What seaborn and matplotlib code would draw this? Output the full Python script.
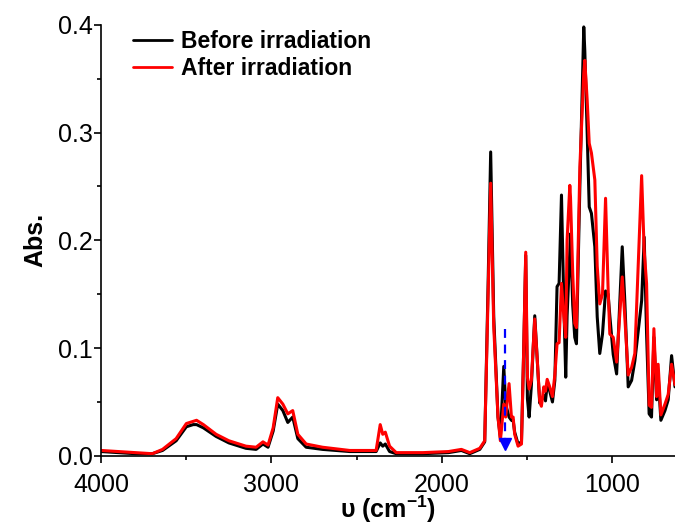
import pandas as pd
import numpy as np
import matplotlib.pyplot as plt
import seaborn as sns
from matplotlib.ticker import MultipleLocator, FormatStrFormatter

# wavenumbers (cm-1), high to low
wavenumber = [4000, 3900, 3800, 3700, 3640, 3560, 3500, 3460, 3440, 3400,
              3325, 3250, 3150, 3090, 3050, 3020, 2990, 2963, 2933, 2904,
              2875, 2845, 2796, 2700, 2540, 2385, 2361, 2346, 2331, 2306,
              2267, 2110, 1960, 1884, 1835, 1776, 1747, 1727, 1712, 1694,
              1669, 1655, 1635, 1624, 1604, 1590, 1580, 1571, 1551, 1531,
              1518, 1506, 1496, 1486, 1473, 1453, 1439, 1424, 1414, 1400,
              1390, 1380, 1365, 1349, 1335, 1322, 1310, 1296, 1282, 1271,
              1263, 1247, 1243, 1230, 1218, 1208, 1188, 1165, 1159, 1145,
              1133, 1120, 1100, 1086, 1071, 1055, 1037, 1022, 1012, 992,
              972, 939, 924, 904, 884, 865, 825, 810, 796, 781,
              767, 753, 737, 728, 712, 688, 669, 649, 629]

before = [0.004, 0.003, 0.002, 0.002, 0.005, 0.014, 0.027, 0.029, 0.029, 0.026,
          0.018, 0.012, 0.007, 0.006, 0.011, 0.008, 0.023, 0.048, 0.042, 0.031,
          0.036, 0.016, 0.008, 0.006, 0.004, 0.004, 0.012, 0.009, 0.011, 0.004,
          0.002, 0.002, 0.003, 0.005, 0.002, 0.006, 0.013, 0.160, 0.282, 0.129,
          0.036, 0.017, 0.083, 0.048, 0.036, 0.033, 0.033, 0.022, 0.011, 0.013,
          0.098, 0.186, 0.053, 0.036, 0.065, 0.130, 0.091, 0.049, 0.052, 0.056,
          0.051, 0.066, 0.060, 0.050, 0.070, 0.157, 0.160, 0.242, 0.140, 0.073,
          0.130, 0.190, 0.206, 0.140, 0.110, 0.104, 0.250, 0.398, 0.376, 0.300,
          0.231, 0.225, 0.194, 0.129, 0.095, 0.113, 0.153, 0.150, 0.130, 0.094,
          0.076, 0.194, 0.144, 0.064, 0.070, 0.088, 0.144, 0.203, 0.113, 0.039,
          0.036, 0.110, 0.052, 0.075, 0.033, 0.042, 0.052, 0.093, 0.064]

after = [0.005, 0.004, 0.003, 0.002, 0.006, 0.016, 0.030, 0.032, 0.033, 0.029,
         0.020, 0.014, 0.009, 0.008, 0.013, 0.010, 0.026, 0.054, 0.048, 0.039,
         0.042, 0.020, 0.011, 0.008, 0.005, 0.005, 0.029, 0.020, 0.022, 0.009,
         0.003, 0.003, 0.004, 0.006, 0.003, 0.007, 0.014, 0.150, 0.253, 0.120,
         0.036, 0.014, 0.048, 0.036, 0.067, 0.036, 0.036, 0.020, 0.009, 0.011,
         0.098, 0.189, 0.073, 0.062, 0.070, 0.127, 0.091, 0.051, 0.046, 0.064,
         0.060, 0.071, 0.064, 0.055, 0.075, 0.104, 0.105, 0.160, 0.129, 0.110,
         0.200, 0.251, 0.240, 0.170, 0.123, 0.119, 0.268, 0.355, 0.367, 0.330,
         0.290, 0.281, 0.256, 0.176, 0.141, 0.150, 0.239, 0.155, 0.113, 0.110,
         0.087, 0.166, 0.129, 0.075, 0.082, 0.095, 0.260, 0.190, 0.160, 0.047,
         0.045, 0.118, 0.055, 0.085, 0.038, 0.048, 0.057, 0.085, 0.066]

labels = ['Before irradiation', 'After irradiation']

# blue dashed arrow marking the band near 1630 cm-1
arrow_x = 1630
arrow_top = 0.118
arrow_tip = 0.004

df = pd.DataFrame({
    'wn': wavenumber * 2,
    'abs': before + after,
    'sample': [labels[0]] * len(before) + [labels[1]] * len(after),
})

sns.set_style('ticks')
plt.rcParams['font.family'] = ['Liberation Sans', 'DejaVu Sans']
plt.rcParams['mathtext.fontset'] = 'custom'
plt.rcParams['mathtext.rm'] = 'Liberation Sans'
plt.rcParams['mathtext.bf'] = 'Liberation Sans:bold'
for key in ['text.color', 'axes.labelcolor', 'xtick.color', 'ytick.color', 'axes.edgecolor']:
    plt.rcParams[key] = 'black'

fig = plt.figure(figsize=(6.75, 5.27), dpi=100)
ax = fig.add_axes([0.150, 0.135, 0.850, 0.818])

sns.lineplot(data=df, x='wn', y='abs', hue='sample', palette=['black', 'red'],
             sort=False, linewidth=2.2, ax=ax)

ax.plot([arrow_x, arrow_x], [arrow_top, arrow_tip + 0.012], color='blue',
        linestyle=(0, (4, 3)), linewidth=1.6)
ax.plot([arrow_x], [arrow_tip + 0.007], marker='v', color='blue', markersize=8,
        linestyle='none')

ax.set_xlim(4000, 629)
ax.set_ylim(0, 0.4)
ax.xaxis.set_major_locator(MultipleLocator(1000))
ax.xaxis.set_minor_locator(MultipleLocator(500))
ax.yaxis.set_major_locator(MultipleLocator(0.1))
ax.yaxis.set_minor_locator(MultipleLocator(0.05))
ax.yaxis.set_major_formatter(FormatStrFormatter('%.1f'))
ax.tick_params(which='major', length=5, width=1.2, labelsize=18)
ax.tick_params(axis='x', which='major', pad=7)
ax.tick_params(axis='y', which='major', pad=1)
ax.tick_params(which='minor', length=3, width=1.2)

for side in ['top', 'right']:
    ax.spines[side].set_visible(False)
for side in ['left', 'bottom']:
    ax.spines[side].set_linewidth(1.2)

ax.set_xlabel('υ (cm$^{\\mathbf{-1}}$)', fontsize=18, fontweight='bold', labelpad=-2)
ax.set_ylabel('Abs.', fontsize=18, fontweight='bold', labelpad=8)

leg = ax.legend(loc='upper left', bbox_to_anchor=(0.035, 1.015), frameon=False,
                prop={'weight': 'bold', 'size': 16.5}, handlelength=1.7,
                handletextpad=0.4, labelspacing=0.2, borderaxespad=0.1)
for line in leg.get_lines():
    line.set_linewidth(2.0)

fig.savefig('out.png', dpi=100)
